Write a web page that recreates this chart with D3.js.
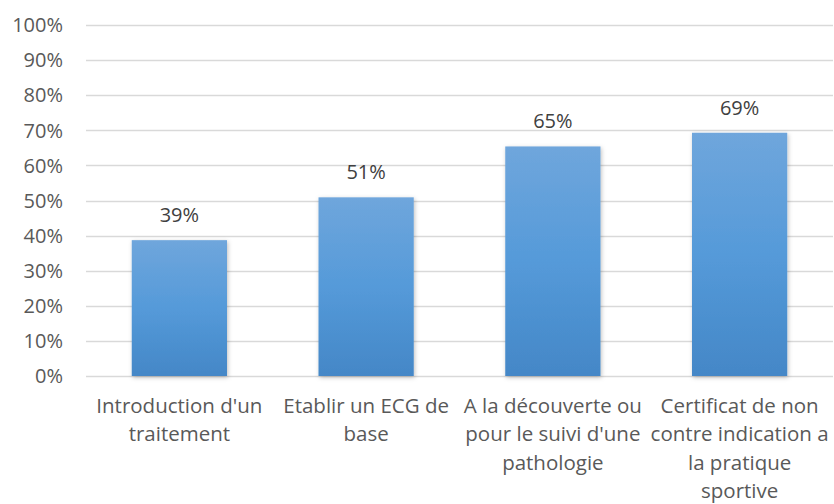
<!DOCTYPE html>
<html>
<head>
<meta charset="utf-8">
<script src="https://cdn.jsdelivr.net/npm/d3@7"></script>
<style>
  body { margin: 0; background: #fff; }
  svg text { font-family: "Open Sans", "Noto Sans", sans-serif; }
</style>
</head>
<body>
<script>
// data
const categories = [
  "Introduction d'un traitement",
  "Etablir un ECG de base",
  "A la découverte ou pour le suivi d'une pathologie",
  "Certificat de non contre indication a la pratique sportive"
];
const values = [0.387, 0.509, 0.654, 0.693];
const yTicks = [0, 0.1, 0.2, 0.3, 0.4, 0.5, 0.6, 0.7, 0.8, 0.9, 1];

const width = 834, height = 504;
const margin = {top: 25, right: 1, bottom: 128, left: 86};

const svg = d3.select("body").append("svg")
  .attr("width", width).attr("height", height);

const x = d3.scaleBand()
  .domain(categories)
  .range([margin.left, width - margin.right])
  .paddingInner(0.49).paddingOuter(0.245);

const y = d3.scaleLinear()
  .domain([0, 1])
  .range([height - margin.bottom, margin.top]);

const pct = d3.format(".0%");

// gradient + shadow for the bars
const defs = svg.append("defs");
const grad = defs.append("linearGradient")
  .attr("id", "barGrad").attr("x1", 0).attr("y1", 0).attr("x2", 0).attr("y2", 1);
grad.append("stop").attr("offset", "0%").attr("stop-color", "#6fa6dc");
grad.append("stop").attr("offset", "50%").attr("stop-color", "#559ad9");
grad.append("stop").attr("offset", "100%").attr("stop-color", "#4487c7");

const shadow = defs.append("filter").attr("id", "shadow")
  .attr("x", "-10%").attr("y", "-10%").attr("width", "130%").attr("height", "130%");
shadow.append("feDropShadow")
  .attr("dx", 1).attr("dy", 1.5).attr("stdDeviation", 2)
  .attr("flood-color", "#000").attr("flood-opacity", 0.25);

// gridlines
svg.append("g")
  .selectAll("line")
  .data(yTicks)
  .enter().append("line")
  .attr("x1", margin.left)
  .attr("x2", width - margin.right)
  .attr("y1", d => Math.round(y(d)) + 0.5)
  .attr("y2", d => Math.round(y(d)) + 0.5)
  .attr("stroke", "#d9d9d9")
  .attr("stroke-width", 1.3);

// y labels
svg.append("g")
  .selectAll("text")
  .data(yTicks)
  .enter().append("text")
  .attr("x", 63)
  .attr("y", d => y(d))
  .attr("dy", "0.36em")
  .attr("text-anchor", "end")
  .attr("font-size", 20)
  .attr("fill", "#595959")
  .text(d => pct(d));

// bars
svg.append("g")
  .selectAll("rect")
  .data(values)
  .enter().append("rect")
  .attr("x", (d, i) => x(categories[i]))
  .attr("y", d => y(d))
  .attr("width", x.bandwidth())
  .attr("height", d => y(0) - y(d))
  .attr("fill", "url(#barGrad)")
  .attr("filter", "url(#shadow)");

// value labels
svg.append("g")
  .selectAll("text")
  .data(values)
  .enter().append("text")
  .attr("x", (d, i) => x(categories[i]) + x.bandwidth() / 2)
  .attr("y", d => y(d) - 18)
  .attr("text-anchor", "middle")
  .attr("font-size", 20)
  .attr("fill", "#404040")
  .text(d => pct(d));

// category labels, wrapped
svg.append("g")
  .selectAll("text")
  .data(categories)
  .enter().append("text")
  .attr("x", d => x(d) + x.bandwidth() / 2)
  .attr("y", 413)
  .attr("text-anchor", "middle")
  .attr("font-size", 20.5)
  .attr("fill", "#595959")
  .each(function(d) { wrap(d3.select(this), d, 182); });

function wrap(text, str, maxW) {
  const words = str.split(" ");
  const cx = text.attr("x");
  let line = [];
  let tspan = text.append("tspan").attr("x", cx).attr("dy", 0);
  words.forEach(w => {
    line.push(w);
    tspan.text(line.join(" "));
    if (tspan.node().getComputedTextLength() > maxW && line.length > 1) {
      line.pop();
      tspan.text(line.join(" "));
      line = [w];
      tspan = text.append("tspan").attr("x", cx).attr("dy", 28.3).text(w);
    }
  });
}
</script>
</body>
</html>
